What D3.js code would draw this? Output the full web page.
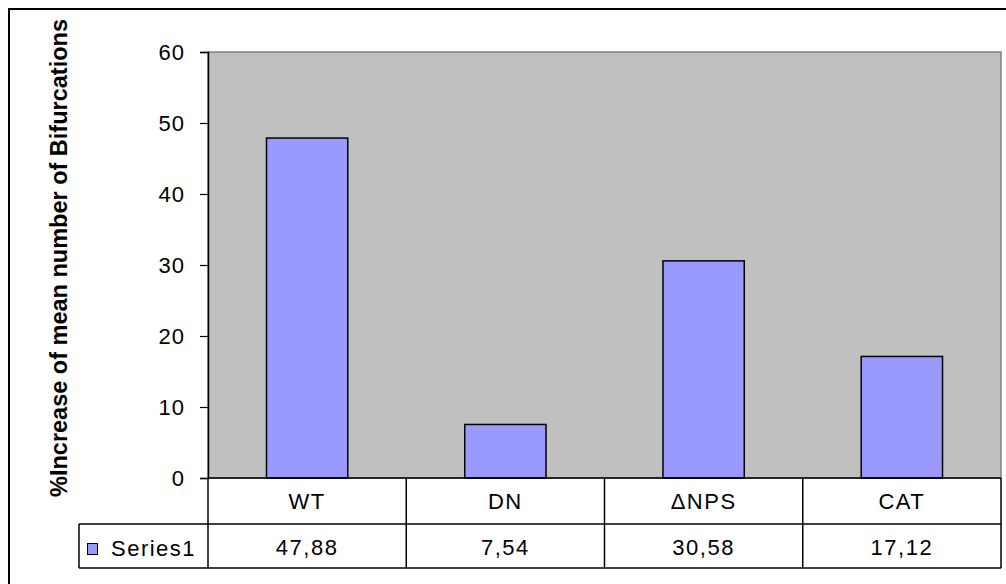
<!DOCTYPE html>
<html>
<head>
<meta charset="utf-8">
<script src="https://cdn.jsdelivr.net/npm/d3@7"></script>
<style>
  body { margin: 0; background: #fff; }
  text { font-family: "Liberation Sans", Arial, sans-serif; fill: #000; }
</style>
</head>
<body>
<svg id="chart" width="1006" height="584"></svg>
<script>
'use strict';
const categories = ['WT', 'DN', '\u0394NPS', 'CAT'];
const values = [47.88, 7.54, 30.58, 17.12];
const valueLabels = ['47,88', '7,54', '30,58', '17,12'];
const yTicks = [0, 10, 20, 30, 40, 50, 60];
const seriesName = 'Series1';
const yTitle = '%Increase of mean number of Bifurcations';

const svg = d3.select('#chart');
const plot = {left: 208, right: 1001, top: 52, bottom: 478};
const rowBottom1 = 524, rowBottom2 = 568, legendLeft = 79;
const labelFont = '22px';

const x = d3.scaleBand().domain(categories).range([plot.left, plot.right]).paddingInner(0).paddingOuter(0);
const y = d3.scaleLinear().domain([0, 60]).range([plot.bottom, plot.top]);

// outer frame
svg.append('rect').attr('x', 9).attr('y', 9).attr('width', 1010).attr('height', 600)
  .attr('fill', '#fff').attr('stroke', '#000').attr('stroke-width', 2);

// plot area
svg.append('rect').attr('x', plot.left).attr('y', plot.top)
  .attr('width', plot.right - plot.left).attr('height', plot.bottom - plot.top)
  .attr('fill', '#c0c0c0').attr('stroke', '#808080').attr('stroke-width', 1.5);

// bars
const bw = x.bandwidth() * 0.41;
svg.append('g').selectAll('rect').data(values).join('rect')
  .attr('x', (d, i) => x(categories[i]) + (x.bandwidth() - bw) / 2)
  .attr('y', d => y(d))
  .attr('width', bw)
  .attr('height', d => y(0) - y(d))
  .attr('fill', '#9999ff').attr('stroke', '#000').attr('stroke-width', 1.5);

// y axis
const yAxis = svg.append('g').attr('transform', `translate(${plot.left},0)`)
  .call(d3.axisLeft(y).tickValues(yTicks).tickSize(8).tickPadding(15));
yAxis.select('.domain').attr('stroke', '#000').attr('stroke-width', 1.5);
yAxis.selectAll('.tick line').attr('stroke', '#000').attr('stroke-width', 1.2);
yAxis.selectAll('.tick text')
  .style('font-size', labelFont).style('letter-spacing', '1px')
  .style('font-family', '"Liberation Sans", Arial, sans-serif')
  .attr('fill', '#000').attr('dy', '0.36em');

// y title
svg.append('text').attr('transform', 'translate(67,258) rotate(-90)')
  .attr('text-anchor', 'middle').style('font-size', '23.5px').style('font-weight', 'bold')
  .text(yTitle);

// data table
const grid = svg.append('g').attr('stroke', '#000').attr('stroke-width', 1.5);
grid.append('line').attr('x1', plot.left).attr('x2', plot.right).attr('y1', plot.bottom).attr('y2', plot.bottom);
grid.append('line').attr('x1', legendLeft).attr('x2', plot.right).attr('y1', rowBottom1).attr('y2', rowBottom1);
grid.append('line').attr('x1', legendLeft).attr('x2', plot.right).attr('y1', rowBottom2).attr('y2', rowBottom2);
grid.append('line').attr('x1', legendLeft).attr('x2', legendLeft).attr('y1', rowBottom1).attr('y2', rowBottom2);
const bounds = categories.map(c => x(c)).concat([plot.right]);
grid.selectAll('line.v').data(bounds).join('line').attr('class', 'v')
  .attr('x1', d => d).attr('x2', d => d).attr('y1', plot.bottom).attr('y2', rowBottom2);

svg.append('g').selectAll('text').data(categories).join('text')
  .attr('x', d => x(d) + x.bandwidth() / 2).attr('y', (plot.bottom + rowBottom1) / 2 + 8)
  .attr('text-anchor', 'middle').style('font-size', labelFont).style('letter-spacing', '1.5px')
  .text(d => d);

svg.append('g').selectAll('text').data(valueLabels).join('text')
  .attr('x', (d, i) => x(categories[i]) + x.bandwidth() / 2).attr('y', (rowBottom1 + rowBottom2) / 2 + 9)
  .attr('text-anchor', 'middle').style('font-size', labelFont).style('letter-spacing', '1.5px')
  .text(d => d);

// legend key
svg.append('rect').attr('x', 87.5).attr('y', 543.5).attr('width', 10).attr('height', 11)
  .attr('fill', '#9999ff').attr('stroke', '#000').attr('stroke-width', 1);
svg.append('text').attr('x', 111).attr('y', 556).style('font-size', labelFont)
  .style('letter-spacing', '1.5px').text(seriesName);
</script>
</body>
</html>
